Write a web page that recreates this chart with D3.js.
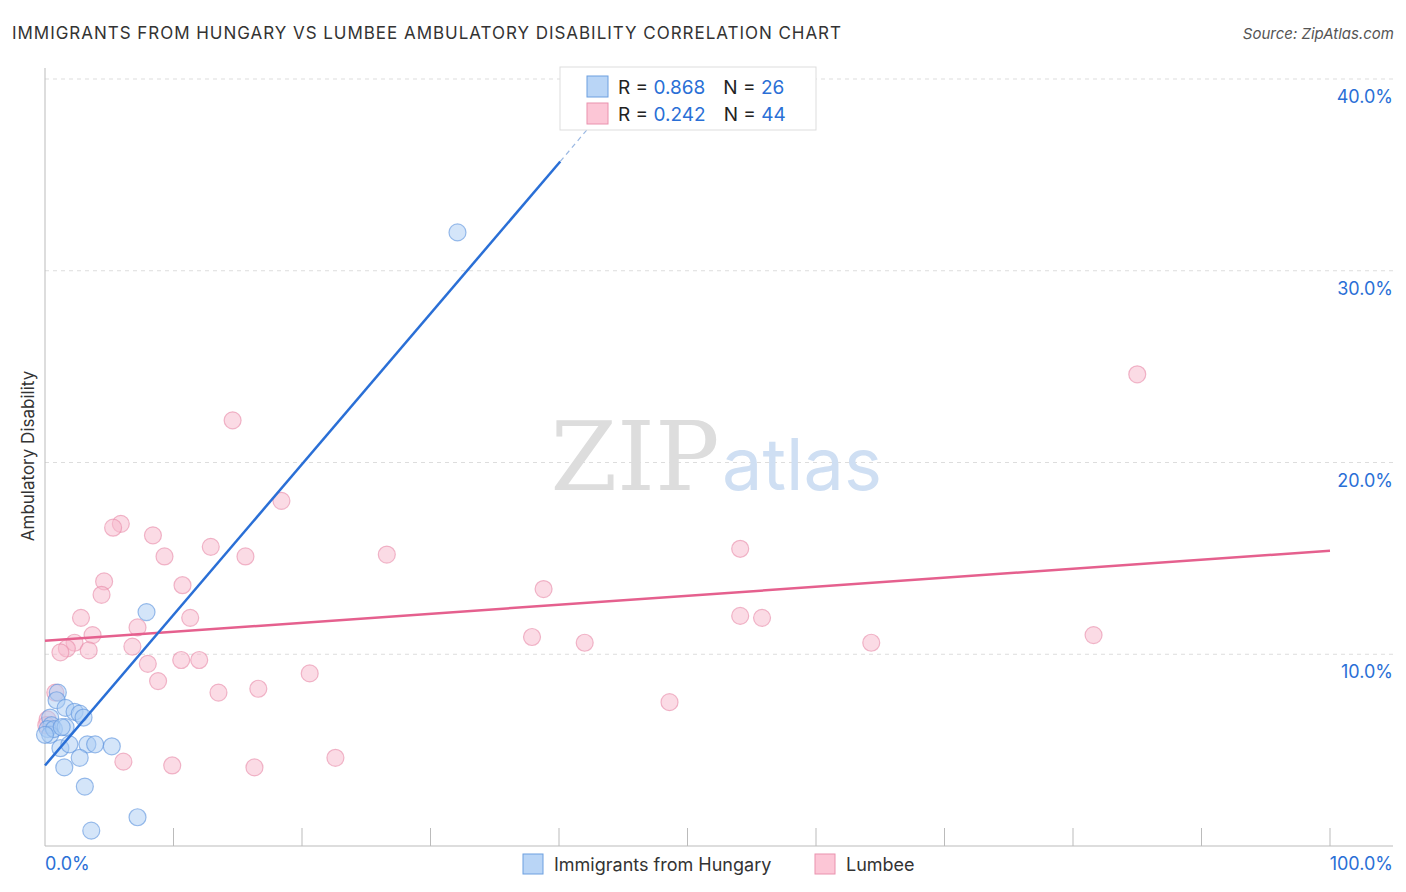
<!DOCTYPE html>
<html><head><meta charset="utf-8">
<script src="https://cdnjs.cloudflare.com/ajax/libs/d3/7.8.5/d3.min.js"></script>
<style>body{margin:0;background:#fff;font-family:Inter,"Noto Sans",sans-serif}</style>
</head><body>
<svg width="1406" height="892" font-family="Inter, Noto Sans, sans-serif"></svg>
<script>
var hungaryX = [7.9,32.1,1.0,0.9,1.6,2.3,2.7,3.0,0.4,0.5,0.2,0.4,0.7,1.6,3.3,3.9,5.2,1.2,1.9,1.5,2.7,3.1,7.2,3.6,0,1.3];
var hungaryY = [12.2,32.0,8.0,7.6,7.2,7.0,6.9,6.7,6.7,6.3,6.1,5.8,6.1,6.2,5.3,5.3,5.2,5.1,5.3,4.1,4.6,3.1,1.5,0.8,5.8,6.2];
var lumbeeX = [85.0,14.6,18.4,5.9,5.3,8.4,12.9,9.3,15.6,26.6,54.1,4.6,10.7,38.8,4.4,2.8,11.3,54.1,55.8,7.2,3.7,37.9,81.6,2.3,1.7,1.2,3.4,6.8,42.0,64.3,8.0,10.6,12.0,20.6,8.8,13.5,16.6,48.6,0.8,6.1,9.9,16.3,22.6,0.2,0.1];
var lumbeeY = [24.6,22.2,18.0,16.8,16.6,16.2,15.6,15.1,15.1,15.2,15.5,13.8,13.6,13.4,13.1,11.9,11.9,12.0,11.9,11.4,11.0,10.9,11.0,10.6,10.3,10.1,10.2,10.4,10.6,10.6,9.5,9.7,9.7,9.0,8.6,8.0,8.2,7.5,8.0,4.4,4.2,4.1,4.6,6.6,6.3];
var yTicks = [10,20,30,40];
var blueLine = [[0,4.2],[40.1,35.7]], blueDash = [[40.1,35.7],[45.5,40]];
var pinkLine = [[0,10.7],[100,15.4]];

var svg = d3.select("svg");
var x = d3.scaleLinear().domain([0,100]).range([45,1330]);
var y = d3.scaleLinear().domain([0,40]).range([846,79]);
var blue = "#2a6fd6", pink = "#e5608e";

svg.append("text").attr("x",12).attr("y",39).attr("font-size",17).attr("fill","#333")
  .attr("textLength",829).text("IMMIGRANTS FROM HUNGARY VS LUMBEE AMBULATORY DISABILITY CORRELATION CHART");
svg.append("text").attr("x",1394).attr("y",39).attr("font-size",15).attr("fill","#555")
  .attr("text-anchor","end").attr("font-style","italic").text("Source: ZipAtlas.com");

// gridlines
svg.selectAll(".grid").data(yTicks).enter().append("line")
  .attr("x1",45).attr("x2",1393).attr("y1",d=>y(d)).attr("y2",d=>y(d))
  .attr("stroke","#ddd").attr("stroke-dasharray","4,4");
svg.selectAll(".ylab").data(yTicks).enter().append("text")
  .attr("x",1393).attr("y",d=>y(d)+24).attr("text-anchor","end").attr("font-size",18)
  .attr("fill",blue).text(d=>d.toFixed(1)+"%");

// axes
svg.append("line").attr("x1",45).attr("x2",45).attr("y1",68).attr("y2",846).attr("stroke","#bbb");
svg.append("line").attr("x1",45).attr("x2",1393).attr("y1",846).attr("y2",846).attr("stroke","#bbb");
svg.selectAll(".xt").data(d3.range(10,101,10)).enter().append("line")
  .attr("x1",d=>x(d)).attr("x2",d=>x(d)).attr("y1",828).attr("y2",846).attr("stroke","#bbb");
svg.append("text").attr("x",45).attr("y",870).attr("font-size",18).attr("fill",blue).text("0.0%");
svg.append("text").attr("x",1393).attr("y",870).attr("font-size",18).attr("fill",blue).attr("text-anchor","end").text("100.0%");
svg.append("text").attr("transform","translate(34,456) rotate(-90)").attr("text-anchor","middle")
  .attr("font-size",17).attr("fill","#333").text("Ambulatory Disability");

// watermark
svg.append("text").attr("x",635).attr("y",490).attr("text-anchor","middle").attr("font-family","DejaVu Serif,serif")
  .attr("font-size",96).attr("fill","#ddd").text("ZIP");
svg.append("text").attr("x",802).attr("y",490).attr("text-anchor","middle")
  .attr("font-size",72).attr("fill","#cfdff3").text("atlas");

function dots(xs, ys, fill, stroke) {
  svg.append("g").selectAll("circle").data(xs).enter().append("circle")
    .attr("cx",(d,i)=>x(d)).attr("cy",(d,i)=>y(ys[i])).attr("r",8.5)
    .attr("fill",fill).attr("fill-opacity",0.5).attr("stroke",stroke).attr("stroke-opacity",0.6).attr("stroke-width",1.2);
}
dots(lumbeeX, lumbeeY, "#f8b8cb", "#e88aa8");
dots(hungaryX, hungaryY, "#a9cbf3", "#5b93dd");

var line = d3.line().x(d=>x(d[0])).y(d=>y(d[1]));
svg.append("path").attr("d",line(pinkLine)).attr("stroke",pink).attr("stroke-width",2.5).attr("fill","none");
svg.append("path").attr("d",line(blueLine)).attr("stroke",blue).attr("stroke-width",2.5).attr("fill","none");
svg.append("path").attr("d",line(blueDash)).attr("stroke","#9ab8e3").attr("stroke-width",1.2).attr("stroke-dasharray","5,4").attr("fill","none");

// top legend
var lg = svg.append("g").attr("transform","translate(560,67)");
lg.append("rect").attr("width",256).attr("height",63).attr("fill","#fff").attr("stroke","#ddd");
[["0.868","26","#b9d5f6","#6c9fe0"],["0.242","44","#fcc6d6","#ea92ae"]].forEach(function(r,i){
  var g = lg.append("g").attr("transform","translate(0,"+(i*27)+")");
  g.append("rect").attr("x",27).attr("y",9).attr("width",21).attr("height",21).attr("fill",r[2]).attr("stroke",r[3]);
  var t = g.append("text").attr("x",58).attr("y",27).attr("font-size",19).attr("fill","#222");
  t.append("tspan").text("R = ");
  t.append("tspan").attr("fill",blue).text(r[0]);
  t.append("tspan").attr("dx",18).text("N = ");
  t.append("tspan").attr("fill",blue).text(r[1]);
});

// bottom legend
[["Immigrants from Hungary",523,"#b9d5f6","#6c9fe0"],["Lumbee",815,"#fcc6d6","#ea92ae"]].forEach(function(r){
  svg.append("rect").attr("x",r[1]).attr("y",854).attr("width",20).attr("height",20).attr("fill",r[2]).attr("stroke",r[3]);
  svg.append("text").attr("x",r[1]+31).attr("y",871).attr("font-size",18).attr("fill","#333").text(r[0]);
});
</script>
</body></html>
